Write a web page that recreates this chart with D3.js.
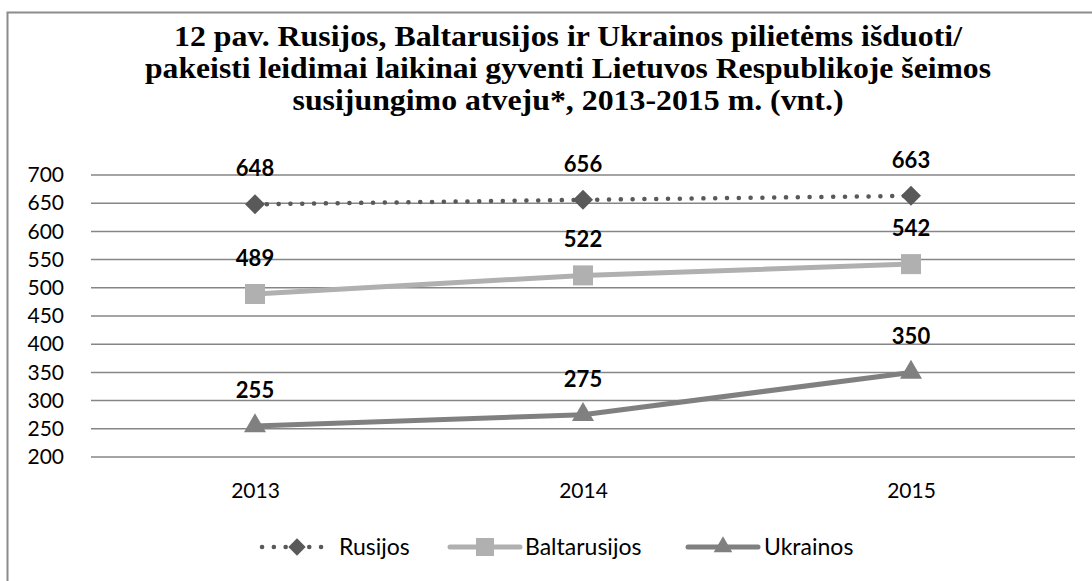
<!DOCTYPE html>
<html>
<head>
<meta charset="utf-8">
<script src="https://cdn.jsdelivr.net/npm/d3@7"></script>
<style>
  body { margin: 0; background: #fff; }
  svg { display: block; }
</style>
</head>
<body>
<svg id="chart" width="1092" height="581"></svg>
<script>
  // data
  const years = ["2013", "2014", "2015"];
  const rusijos = [648, 656, 663];
  const baltarusijos = [489, 522, 542];
  const ukrainos = [255, 275, 350];
  const yTicks = [200, 250, 300, 350, 400, 450, 500, 550, 600, 650, 700];
  const titleLines = [
    "12 pav. Rusijos, Baltarusijos ir Ukrainos pilietėms išduoti/",
    "pakeisti leidimai laikinai gyventi Lietuvos Respublikoje šeimos",
    "susijungimo atveju*, 2013-2015 m. (vnt.)"
  ];
  const titleWidths = [788, 846, 551];

  // diamonds are squares turned by 45 degrees
  const series = [
    { name: "Rusijos", values: rusijos, color: "#595959", width: 4.5, dash: "0.1 11.7", symbol: d3.symbolSquare, rotate: 45, size: 200, legendSize: 150 },
    { name: "Baltarusijos", values: baltarusijos, color: "#b0b0b0", width: 5, dash: null, symbol: d3.symbolSquare, rotate: 0, size: 400, legendSize: 324 },
    { name: "Ukrainos", values: ukrainos, color: "#808080", width: 5, dash: null, symbol: d3.symbolTriangle, rotate: 0, size: 210, legendSize: 150 }
  ];

  const svg = d3.select("#chart");
  const font = "Lato, 'Open Sans', sans-serif";

  // outer frame
  svg.append("path")
    .attr("d", "M7.5,600 V12.5 H1100")
    .attr("fill", "none")
    .attr("stroke", "#8c8c8c")
    .attr("stroke-width", 2);

  // title
  const title = svg.append("g");
  titleLines.forEach(function(t, i) {
    title.append("text")
      .attr("x", 568)
      .attr("y", 46 + i * 32)
      .attr("text-anchor", "middle")
      .attr("font-family", "'Liberation Serif', 'Times New Roman', serif")
      .attr("font-weight", "bold")
      .attr("font-size", 29)
      .attr("textLength", titleWidths[i])
      .attr("lengthAdjust", "spacingAndGlyphs")
      .text(t);
  });

  const x = d3.scalePoint().domain(years).range([91, 1075]).padding(0.5);
  const y = d3.scaleLinear().domain([200, 700]).range([457, 175]);

  // grid lines
  svg.append("g")
    .selectAll("line")
    .data(yTicks)
    .join("line")
    .attr("x1", 91)
    .attr("x2", 1075)
    .attr("y1", d => y(d))
    .attr("y2", d => y(d))
    .attr("stroke", "#868686")
    .attr("stroke-width", 1.5);

  // y axis labels
  const yAxis = svg.append("g")
    .attr("transform", "translate(64,0)")
    .call(d3.axisLeft(y).tickValues(yTicks).tickSize(0).tickPadding(0));
  yAxis.select(".domain").remove();
  yAxis.selectAll("text")
    .attr("font-family", font)
    .attr("font-size", 21)
    .attr("fill", "#000");

  // x axis labels
  const xAxis = svg.append("g")
    .attr("transform", "translate(0,483)")
    .call(d3.axisBottom(x).tickSize(0).tickPadding(0));
  xAxis.select(".domain").remove();
  xAxis.selectAll("text")
    .attr("font-family", font)
    .attr("font-size", 21)
    .attr("fill", "#000");

  const line = d3.line()
    .x((d, i) => x(years[i]))
    .y(d => y(d));

  series.forEach(function(s) {
    svg.append("path")
      .datum(s.values)
      .attr("d", line)
      .attr("fill", "none")
      .attr("stroke", s.color)
      .attr("stroke-width", s.width)
      .attr("stroke-linecap", "round")
      .attr("stroke-dasharray", s.dash);

    svg.append("g")
      .selectAll("path")
      .data(s.values)
      .join("path")
      .attr("transform", (d, i) => "translate(" + x(years[i]) + "," + y(d) + ") rotate(" + s.rotate + ")")
      .attr("d", d3.symbol().type(s.symbol).size(s.size))
      .attr("fill", s.color);

    svg.append("g")
      .selectAll("text")
      .data(s.values)
      .join("text")
      .attr("x", (d, i) => x(years[i]))
      .attr("y", d => y(d) - 28)
      .attr("text-anchor", "middle")
      .attr("font-family", font)
      .attr("font-weight", "bold")
      .attr("font-size", 22)
      .text(d => d);
  });

  // legend: [line start, line end, text start]
  const legendPos = [[262, 326, 339], [450, 520, 525], [688, 758, 764]];
  series.forEach(function(s, i) {
    const p = legendPos[i];
    const g = svg.append("g").attr("transform", "translate(0,547)");
    g.append("line")
      .attr("x1", p[0]).attr("x2", p[1])
      .attr("stroke", s.color)
      .attr("stroke-width", s.width)
      .attr("stroke-linecap", "round")
      .attr("stroke-dasharray", s.dash);
    g.append("path")
      .attr("transform", "translate(" + ((p[0] + p[1]) / 2 + (i === 0 ? 3 : 0)) + ",0) rotate(" + s.rotate + ")")
      .attr("d", d3.symbol().type(s.symbol).size(s.legendSize))
      .attr("fill", s.color);
    g.append("text")
      .attr("x", p[2])
      .attr("y", 8)
      .attr("font-family", font)
      .attr("font-size", 23)
      .text(s.name);
  });
</script>
</body>
</html>
